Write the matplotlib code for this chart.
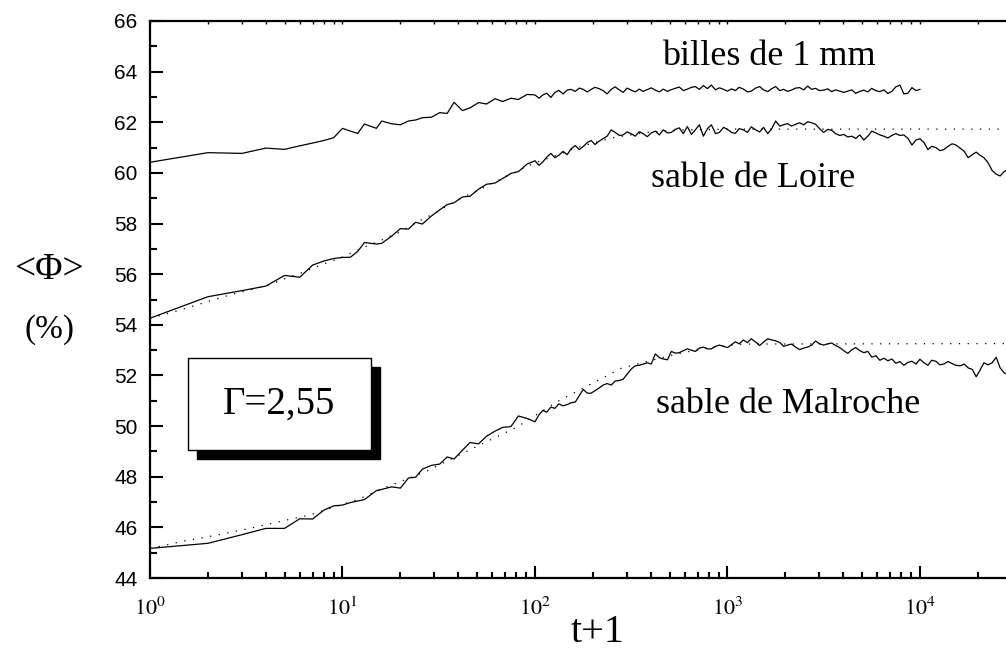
import matplotlib
matplotlib.use("Agg")
import matplotlib.pyplot as plt
from matplotlib.patches import Rectangle
from matplotlib.ticker import MultipleLocator, LogLocator, NullFormatter

# time grid (t+1), shared by the three runs
t = [1, 2, 3, 4, 5, 6, 7, 8, 9, 10, 11, 12, 13, 15, 16, 18, 20, 22, 24, 26,
     29, 32, 35, 38, 42, 46, 51, 56, 62, 68, 75, 82, 91,
     100, 105, 110, 115, 121, 127, 133, 140, 147, 154, 162, 170, 178, 187,
     196, 205, 215, 226, 237, 249, 261, 274, 287, 301, 316, 332, 348, 365,
     383, 402, 422, 443, 464, 488, 511, 536, 562, 590, 619, 650, 681, 715,
     750, 787, 825, 867, 909, 954,
     1000, 1050, 1100, 1150, 1210, 1270, 1330, 1400, 1470, 1540, 1620, 1700,
     1780, 1870, 1960, 2050, 2150, 2260, 2370, 2490, 2610, 2740, 2870, 3010,
     3160, 3320, 3480, 3650, 3830, 4020, 4220, 4430, 4640, 4870, 5110, 5360,
     5620, 5900, 6190, 6500, 6810, 7150, 7500, 7870, 8250, 8670, 9090, 9540,
     10000, 10500, 11000, 11500, 12100, 12700, 13300, 14000, 14700, 15400,
     16200, 17000, 17800, 18700, 19600, 20500, 21500, 22600, 23700, 24900,
     26100, 27400, 28700]

billes = [60.42, 60.80, 60.77, 60.98, 60.93, 61.07, 61.18, 61.28, 61.39, 61.76,
          61.65, 61.56, 61.93, 61.76, 62.05, 61.94, 61.90, 62.05, 62.09, 62.18,
          62.20, 62.38, 62.35, 62.79, 62.46, 62.57, 62.78, 62.72, 62.93, 62.82,
          62.95, 62.90, 63.10,
          63.08, 62.95, 63.08, 63.15, 62.98, 63.18, 63.26, 63.12, 63.27, 63.30,
          63.22, 63.35, 63.30, 63.20, 63.30, 63.38, 63.33, 63.25, 63.12, 63.30,
          63.40, 63.28, 63.18, 63.35, 63.27, 63.20, 63.31, 63.22, 63.29, 63.36,
          63.27, 63.20, 63.31, 63.22, 63.29, 63.34, 63.39, 63.25, 63.31, 63.38,
          63.41, 63.30, 63.45, 63.33, 63.47, 63.28, 63.36, 63.30,
          63.23, 63.32, 63.25, 63.38, 63.31, 63.20, 63.23, 63.35, 63.41, 63.28,
          63.21, 63.33, 63.41, 63.25, 63.30, 63.22, 63.27, 63.35, 63.37, 63.28,
          63.43, 63.30, 63.34, 63.25, 63.27, 63.32, 63.21, 63.28, 63.23, 63.18,
          63.23, 63.28, 63.14, 63.22, 63.27, 63.20, 63.34, 63.25, 63.21, 63.28,
          63.14, 63.22, 63.40, 63.47, 63.12, 63.15, 63.37, 63.25,
          63.30]

loire = [54.26, 55.11, 55.35, 55.53, 55.95, 55.88, 56.36, 56.52, 56.62, 56.66,
         56.67, 56.90, 57.25, 57.19, 57.22, 57.50, 57.80, 57.78, 58.05, 57.98,
         58.30, 58.54, 58.75, 58.82, 59.05, 59.08, 59.36, 59.55, 59.60, 59.78,
         59.98, 60.05, 60.35,
         60.48, 60.30, 60.44, 60.62, 60.77, 60.60, 60.70, 60.85, 60.72, 60.95,
         61.08, 60.92, 61.04, 61.20, 61.28, 61.12, 61.25, 61.35, 61.45, 61.70,
         61.60, 61.48, 61.50, 61.62, 61.55, 61.45, 61.63, 61.55, 61.43, 61.58,
         61.65, 61.50, 61.70, 61.58, 61.60, 61.72, 61.78, 61.55, 61.83, 61.52,
         61.70, 61.90, 61.45, 61.75, 61.90, 61.55, 61.60, 61.80,
         61.72, 61.60, 61.56, 61.75, 61.70, 61.60, 61.82, 61.70, 61.62, 61.80,
         61.55, 61.75, 62.05, 61.85, 61.90, 61.95, 61.85, 61.92, 61.98, 61.90,
         62.02, 61.98, 61.92, 61.75, 61.60, 61.72, 61.68, 61.55, 61.48, 61.52,
         61.42, 61.45, 61.36, 61.50, 61.30, 61.45, 61.65, 61.58, 61.50, 61.45,
         61.38, 61.48, 61.55, 61.48, 61.50, 61.36, 61.10, 61.30,
         61.35, 61.20, 60.92, 61.05, 61.00, 60.88, 60.92, 61.05, 61.15, 61.10,
         60.97, 60.85, 60.60, 60.72, 60.82, 60.70, 60.60, 60.40, 60.10, 59.95,
         59.88, 60.05, 60.15]

malroche = [45.17, 45.37, 45.71, 45.96, 45.96, 46.34, 46.33, 46.68, 46.85, 46.88,
            46.98, 47.04, 47.10, 47.45, 47.50, 47.60, 47.55, 47.95, 47.98, 48.30,
            48.45, 48.50, 48.78, 48.70, 49.05, 49.35, 49.30, 49.60, 49.80, 49.95,
            49.98, 50.40, 50.30,
            50.17, 50.45, 50.62, 50.55, 50.75, 50.70, 50.88, 50.80, 50.85, 50.92,
            50.95, 51.20, 51.45, 51.30, 51.30, 51.40, 51.50, 51.62, 51.68, 51.62,
            51.78, 51.80, 51.85, 52.05, 52.25, 52.38, 52.40, 52.45, 52.50, 52.45,
            52.85, 52.70, 52.65, 52.62, 52.95, 52.88, 52.90, 52.98, 53.05, 53.00,
            52.95, 53.08, 53.12, 53.05, 53.05, 53.15, 53.20, 53.15,
            53.10, 53.22, 53.33, 53.25, 53.40, 53.30, 53.45, 53.32, 53.18, 53.32,
            53.45, 53.40, 53.37, 53.30, 53.15, 53.20, 53.24, 53.12, 53.02, 53.08,
            53.12, 53.20, 53.36, 53.25, 53.20, 53.25, 53.28, 53.18, 53.10, 52.98,
            52.87, 53.02, 53.10, 52.98, 52.90, 52.95, 52.72, 52.78, 52.60, 52.68,
            52.58, 52.65, 52.48, 52.55, 52.40, 52.52, 52.56, 52.45,
            52.64, 52.50, 52.40, 52.60, 52.56, 52.42, 52.45, 52.55, 52.47, 52.40,
            52.38, 52.45, 52.30, 52.24, 51.95, 52.20, 52.50, 52.42, 52.50, 52.72,
            52.30, 52.10, 52.05]

# fitted curves (dotted)
loire_fit_t = [1, 1.4, 2, 2.6, 3.3, 4, 5, 6, 7.5, 10, 13, 16, 20, 25, 30, 40,
               55, 75, 100, 125, 165, 250, 380, 600, 1000, 28700]
loire_fit = [54.26, 54.56, 54.92, 55.18, 55.38, 55.53, 55.82, 56.03, 56.32,
             56.68, 57.07, 57.35, 57.68, 58.10, 58.40, 58.95, 59.45, 59.95,
             60.40, 60.65, 61.00, 61.38, 61.60, 61.70, 61.73, 61.73]
malroche_fit_t = [1, 1.5, 2.1, 3.3, 4.9, 6.8, 8.6, 12, 17, 27, 50, 80, 130,
                  280, 530, 800, 1200, 28700]
malroche_fit = [45.17, 45.46, 45.66, 45.96, 46.26, 46.49, 46.75, 47.10, 47.60,
                48.20, 49.20, 49.95, 50.96, 52.28, 52.83, 53.10, 53.24, 53.26]

xticks = [1, 10, 100, 1000, 10000]
xtick_labels = [r'$10^{0}$', r'$10^{1}$', r'$10^{2}$', r'$10^{3}$', r'$10^{4}$']

plt.rcParams['font.family'] = ['Liberation Serif', 'DejaVu Serif']
plt.rcParams['mathtext.fontset'] = 'stix'

fig = plt.figure(figsize=(10.06, 6.5), dpi=100)
ax = fig.add_axes([150/1006, 72/650, 856/1006, 557/650])

ax.plot(t[:len(billes)], billes, color='black', lw=0.9)
ax.plot(t, loire, color='black', lw=0.9)
ax.plot(t, malroche, color='black', lw=0.9)
ax.plot(loire_fit_t, loire_fit, color='black', lw=0.9, ls=(0, (1, 6)))
ax.plot(malroche_fit_t, malroche_fit, color='black', lw=0.9, ls=(0, (1, 6)))

ax.set_xscale('log')
ax.set_xlim(1, 2.8e4)
ax.set_ylim(44, 66)

ax.yaxis.set_major_locator(MultipleLocator(2))
ax.yaxis.set_minor_locator(MultipleLocator(1))
ax.set_xticks(xticks, labels=xtick_labels)
ax.xaxis.set_minor_locator(LogLocator(base=10, subs=range(2, 10), numticks=20))
ax.xaxis.set_minor_formatter(NullFormatter())

ax.spines['right'].set_visible(False)
for s in ['left', 'bottom', 'top']:
    ax.spines[s].set_linewidth(1.6)

ax.tick_params(axis='y', which='major', direction='in', length=9, width=1.5,
               pad=9, labelsize=15, labelfontfamily='Liberation Sans')
ax.tick_params(axis='y', which='minor', direction='in', length=5, width=1.5)
ax.tick_params(axis='x', which='major', direction='in', length=9, width=1.5,
               pad=14, labelsize=16)
ax.tick_params(axis='x', which='minor', direction='in', length=4.5, width=1.5)

# small ticks along the top frame
top = ax.twiny()
top.set_xscale('log')
top.set_xlim(ax.get_xlim())
top.xaxis.set_major_locator(LogLocator(base=10, numticks=10))
top.xaxis.set_minor_locator(LogLocator(base=10, subs=range(2, 10), numticks=20))
top.tick_params(axis='x', which='both', direction='in', length=2, width=1,
                labeltop=False)
for s in top.spines.values():
    s.set_visible(False)

ax.text(1644, 64.26, 'billes de 1 mm', ha='center', va='baseline', fontsize=26)
ax.text(1356, 59.44, 'sable de Loire', ha='center', va='baseline', fontsize=26)
ax.text(2062, 50.52, 'sable de Malroche', ha='center', va='baseline', fontsize=26)

# Gamma box with drop shadow
bx, by, bw, bh = 0.0444, 0.2298, 0.2137, 0.1652
ax.add_patch(Rectangle((bx + 0.0105, by - 0.0162), bw, bh, transform=ax.transAxes,
                       facecolor='black', edgecolor='black', zorder=5))
ax.add_patch(Rectangle((bx, by), bw, bh, transform=ax.transAxes,
                       facecolor='white', edgecolor='black', lw=1.0, zorder=6))
ax.text(bx + bw / 2, by + bh / 2, 'Γ=2,55', transform=ax.transAxes,
        ha='center', va='center', fontsize=28, zorder=7)

fig.text(49/1006, 1 - 270/650, '<Φ>', ha='center', va='center', fontsize=27)
fig.text(49/1006, 1 - 330/650, '(%)', ha='center', va='center', fontsize=24)
fig.text(598/1006, 1 - 632/650, 't+1', ha='center', va='center', fontsize=29)

fig.savefig('out.png', dpi=100)
